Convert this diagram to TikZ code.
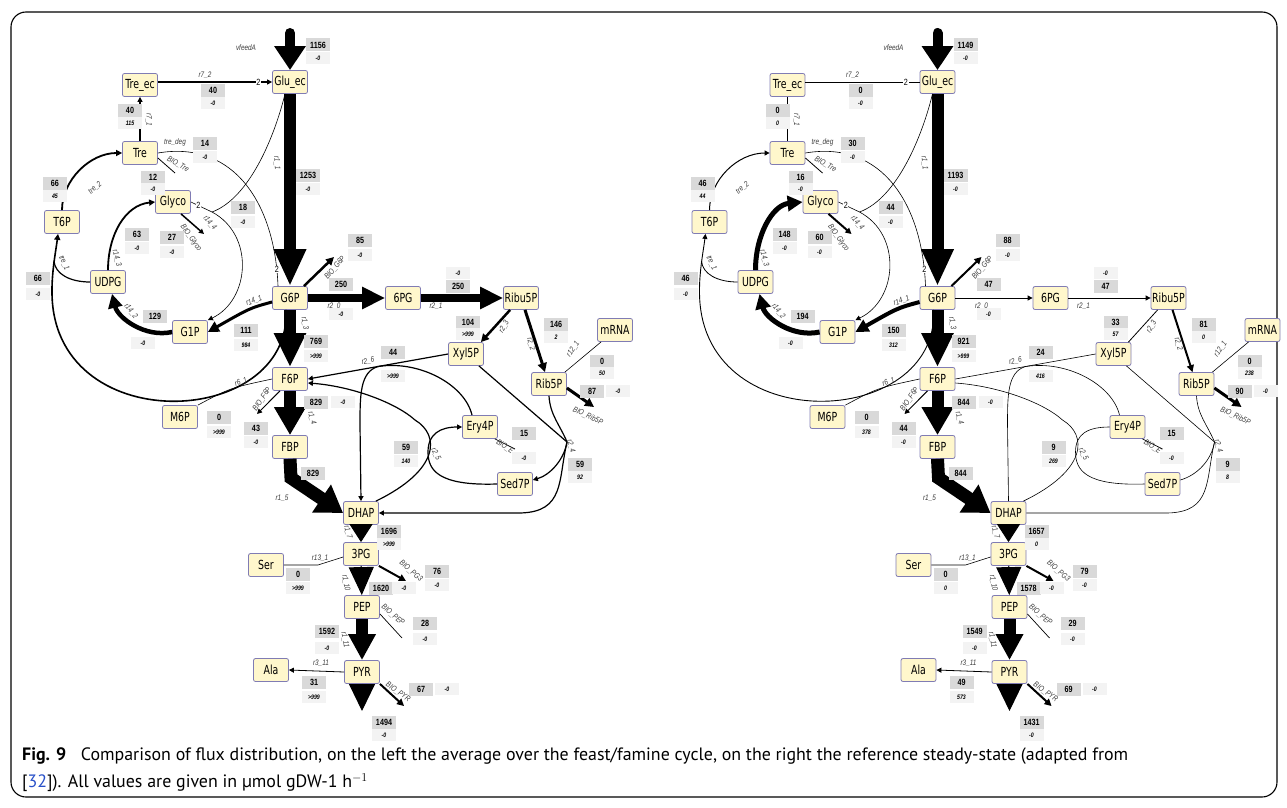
\documentclass[tikz,border=0pt]{standalone}
\usepackage{fontspec}
\setmainfont{PT Sans}
\newfontfamily\netfont[FakeStretch=0.75]{DejaVu Sans}
\newfontfamily\numfont[FakeStretch=0.8]{Liberation Sans}
\usetikzlibrary{arrows.meta}

\definecolor{metfill}{RGB}{255,247,204}
\definecolor{metline}{RGB}{128,124,180}
\definecolor{fluxbox}{RGB}{217,217,217}
\definecolor{sdbox}{RGB}{243,243,243}
\definecolor{rngray}{RGB}{60,60,60}
\definecolor{linkblue}{RGB}{40,80,200}

\tikzset{
  met/.style={draw=metline, fill=metfill, rounded corners=2pt, line width=0.8pt,
    minimum width=35pt, minimum height=23pt, inner sep=1pt,
    font=\netfont\fontsize{12.5}{13}\selectfont},
  flux/.style={fill=fluxbox, minimum width=24pt, minimum height=13pt, inner sep=1pt,
    font=\numfont\bfseries\fontsize{9}{9}\selectfont},
  sd/.style={fill=sdbox, minimum width=24pt, minimum height=12pt, inner sep=1pt,
    font=\numfont\bfseries\itshape\fontsize{6.5}{6.5}\selectfont},
  rn/.style={inner sep=0.5pt, text=rngray, font=\numfont\itshape\fontsize{8}{9}\selectfont},
  st/.style={fill=white, inner sep=0.6pt, font=\numfont\fontsize{9}{9}\selectfont},
  fat/.style n args={3}{line width=#1, -{Triangle[length=#2, width=#3]}},
  ar/.style 2 args={line width=#1, -{Triangle[length=#2, width=#2]}},
  ln/.style={line width=#1},
  % average over the cycle
  leftnet/.style={
    r72/.style={ar={1.2pt}{5pt}}, r71/.style={ar={1.2pt}{5pt}},
    tre2/.style={ar={1.8pt}{6pt}}, r143/.style={ar={1.8pt}{6pt}},
    bgly/.style={ar={1.5pt}{5pt}}, tre1/.style={ln=1.2pt},
    arc1/.style={ar={1.6pt}{6pt}}, r141/.style={ar={3pt}{11pt}},
    r142/.style={ar={4.5pt}{14pt}}, r20/.style={fat={8pt}{23pt}{21pt}},
    r23/.style={ar={2.5pt}{8pt}}, r22/.style={ar={3pt}{9pt}},
    bg6p/.style={ar={2.5pt}{8pt}}, side/.style={ar={1.2pt}{5pt}},
    sidel/.style={ln=1.2pt}},
  % reference steady state
  rightnet/.style={
    r72/.style={ln=0.6pt}, r71/.style={ln=0.6pt},
    tre2/.style={ar={1pt}{5pt}}, r143/.style={ar={5pt}{15pt}},
    bgly/.style={ar={2pt}{6pt}}, tre1/.style={ln=0.8pt},
    arc1/.style={ar={0.9pt}{5pt}}, r141/.style={ar={4pt}{13pt}},
    r142/.style={ar={5pt}{15pt}}, r20/.style={ar={0.9pt}{5pt}},
    r23/.style={ln=0.8pt}, r22/.style={ar={2pt}{7pt}},
    bg6p/.style={ar={2pt}{7pt}}, side/.style={ln=0.6pt},
    sidel/.style={ln=0.6pt}}
}

\begin{document}
\begin{tikzpicture}[x=1pt, y=-1pt]
\useasboundingbox (0,0) rectangle (1287,808);
\draw[line width=1.1pt, rounded corners=15pt] (11,12) rectangle (1277,797);

\foreach \p/\dx/\look in {L/0/leftnet, R/647.5/rightnet}{
\begin{scope}[xshift=\dx, name prefix=\p-, \look]
  % metabolites
  \node[met] (treec) at (140,85) {Tre\_ec};
  \node[met] (gluec) at (290,82) {Glu\_ec};
  \node[met] (tre) at (140,153) {Tre};
  \node[met] (glyco) at (173,202) {Glyco};
  \node[met] (t6p) at (62,222) {T6P};
  \node[met] (udpg) at (108,282) {UDPG};
  \node[met] (g1p) at (190,332) {G1P};
  \node[met] (g6p) at (290,298) {G6P};
  \node[met] (pg6) at (403,298) {6PG};
  \node[met] (ribu5p) at (521,298) {Ribu5P};
  \node[met] (xyl5p) at (466,354) {Xyl5P};
  \node[met] (mrna) at (615,330) {mRNA};
  \node[met] (rib5p) at (549,384) {Rib5P};
  \node[met] (f6p) at (290,379) {F6P};
  \node[met] (m6p) at (180,417) {M6P};
  \node[met] (fbp) at (290,447) {FBP};
  \node[met] (ery4p) at (480,427) {Ery4P};
  \node[met] (sed7p) at (515,484) {Sed7P};
  \node[met] (dhap) at (361,513) {DHAP};
  \node[met] (pg3) at (361,554) {3PG};
  \node[met] (ser) at (266,565) {Ser};
  \node[met] (pep) at (362,607) {PEP};
  \node[met] (ala) at (271,670) {Ala};
  \node[met] (pyr) at (362,672) {PYR};

  \coordinate (feed) at (290,33);
  \coordinate (bioTre) at (175,173);
  \coordinate (bioGly) at (204,234);
  \coordinate (j144) at (212,212);
  \coordinate (bioG6P) at (334,257);
  \coordinate (jtre1) at (54,261);
  \coordinate (j26) at (378,366.5);
  \coordinate (j24) at (567,442);
  \coordinate (bioRib) at (594,407);
  \coordinate (bioF6P) at (257,414);
  \coordinate (bioE) at (515,449);
  \coordinate (kr15) at (291,478);
  \coordinate (kr131) at (318,565);
  \coordinate (bioPG3) at (406,581);
  \coordinate (bioPEP) at (402,638);
  \coordinate (bioPYR) at (404,706);
  \coordinate (outPYR) at (362,711);

  % trehalose and glycogen
  \draw[fat={10pt}{24pt}{30pt}, line cap=round] (feed) -- (gluec);
  \draw[r72] (treec.east |- gluec) -- node[st, pos=0.88] (s72) {2} (gluec);
  \draw[r71] (tre) -- (treec);
  \draw[line width=0.6pt] (tre.east) .. controls (235,140) and (275,205)
    .. node[st, pos=0.93] (sdeg) {2} ([xshift=-12pt]g6p.north);
  \draw[line width=0.8pt] ([yshift=-5pt]tre.east) -- (bioTre);
  \draw[tre2] (t6p.north) .. controls (62,180) and (90,153) .. (tre.west);
  \draw[r143] (udpg.north) .. controls (108,235) and (125,205) .. (glyco.west);
  \draw[bgly] ([xshift=8pt]glyco.south) -- (bioGly);
  \draw[line width=0.6pt] (glyco.east) -- node[st, pos=0.35] (sgly) {2} (j144);
  \draw[line width=0.6pt] (j144) .. controls (250,198) and (275,135) .. ([xshift=-5pt]gluec.south);
  \draw[ar={0.6pt}{5pt}] (j144) .. controls (255,235) and (250,300) .. (g1p.north east);
  \draw[tre1] (udpg.west) .. controls (70,282) and (55,274) .. (jtre1);
  \draw[arc1] ([xshift=-4pt]g6p.south) .. controls (292,430) and (50,440) .. (52,290)
    .. controls (52,270) and (56,250) .. ([xshift=-4pt]t6p.south);
  \draw[r141] ([yshift=-4pt]g6p.west) .. controls (250,308) .. (g1p.east);
  \draw[r142] (g1p.west) .. controls (145,338) and (118,318) .. ([xshift=4pt]udpg.south);

  % glycolysis and pentose phosphate
  \draw[fat={12pt}{37pt}{30pt}] (gluec) -- (g6p);
  \draw[bg6p] ([xshift=-4pt]g6p.north east) -- (bioG6P);
  \draw[r20] (g6p) -- (pg6);
  \draw[r20] (pg6) -- (ribu5p);
  \draw[r23] ([xshift=7pt]ribu5p.south west) -- ([xshift=-3pt]xyl5p.north east);
  \draw[r22] ([xshift=4pt]ribu5p.south) -- ([xshift=-4pt]rib5p.north);
  \draw[line width=0.6pt] ([xshift=4pt]mrna.south west) -- ([xshift=-2pt]rib5p.north east);
  \draw[ar={3pt}{9pt}] ([yshift=-4pt]rib5p.east) -- (bioRib);
  \draw[fat={12pt}{34pt}{30pt}] (g6p) -- (f6p);
  \draw[side] (xyl5p.west) -- (f6p.east);
  \draw[side] (j26) .. controls (360,372) and (360,395) .. (360,425) -- (dhap.north);
  \draw[sidel] (j26) .. controls (420,360) and (465,385) .. ([xshift=-8pt]ery4p.north);
  \draw[side] ([xshift=-3pt]dhap.north east) .. controls (440,470) and (440,435) .. (415,420)
    .. controls (395,402) and (350,386) .. ([yshift=-4pt]f6p.east);
  \draw[side] (sed7p.west) .. controls (438,486) and (428,470) .. (428,452)
    .. controls (428,434) and (440,427) .. (ery4p.west);
  \draw[sidel] ([xshift=-5pt]xyl5p.south east) -- (j24);
  \draw[sidel] (rib5p.south) .. controls (550,415) and (560,425) .. (j24);
  \draw[side] (j24) .. controls (564,460) and (550,475) .. ([yshift=4pt]sed7p.east);
  \draw[side] (j24) .. controls (558,480) and (565,512) .. (520,513) -- (dhap.east);
  \draw[line width=0.7pt] ([xshift=-3pt]ery4p.south east) -- (bioE);
  \draw[line width=0.6pt] (m6p.north east) .. controls (230,388) .. (f6p.west);
  \draw[ar={1pt}{5pt}] ([xshift=-10pt]f6p.south) -- (bioF6P);
  \draw[fat={12pt}{28pt}{30pt}] (f6p) -- (fbp);
  \draw[fat={13pt}{26pt}{32pt}] (fbp.south) -- (kr15) -- (dhap.west);
  \draw[fat={1pt}{18pt}{23pt}] (dhap) -- (pg3);
  \draw[line width=0.6pt] (ser.east) -- (kr131) -- ([yshift=-3pt]pg3.west);
  \draw[ar={2pt}{7pt}] (pg3.south east) -- (bioPG3);
  \draw[fat={1pt}{28pt}{25pt}] (pg3) -- (pep);
  \draw[line width=0.7pt] ([yshift=5pt]pep.south east) -- (bioPEP);
  \draw[fat={12pt}{26pt}{26pt}] (pep) -- (pyr);
  \draw[ar={0.8pt}{5pt}] (pyr.west) -- (ala.east);
  \draw[fat={1pt}{27pt}{26pt}] (pyr) -- (outPYR);
  \draw[ar={2pt}{7pt}] (pyr.south east) -- (bioPYR);

  % reaction names
  \foreach \x/\y/\a/\t [count=\i] in {246/48/0/vfeedA, 205/75/0/r7\_2, 149/120/-90/r7\_1,
      175/142/0/tre\_deg, 178/164/-30/BIO\_Tre, 277/163/-85/r1\_1, 95/188/40/tre\_2,
      210/223/-50/r14\_4, 191/238/-55/BIO\_Glyco, 117/258/-75/r14\_3, 64/263/-65/tre\_1,
      131/311/-50/r14\_2, 254/301/20/r14\_1, 335/268/50/BIO\_G6P, 334/306/0/r2\_0,
      436/306/0/r2\_1, 504/327/60/r2\_3, 531/344/-75/r2\_2, 305/323/-80/r1\_3,
      573/349/55/r12\_1, 368/361/10/r2\_6, 588/416/-25/BIO\_Rib5P, 241/382/20/r6\_1,
      262/399/55/BIO\_F6P, 312/418/-75/r1\_4, 505/447/-35/BIO\_E, 436/454/-65/r2\_5,
      571/446/-75/r2\_4, 282/498/0/r1\_5, 348/532/-75/r1\_7, 320/558/0/r13\_1,
      411/571/-40/BIO\_PG3, 346/583/-80/r1\_10, 393/615/-40/BIO\_PEP, 345/640/-80/r1\_11,
      321/663/0/r3\_11, 398/692/-35/BIO\_PYR}
    \node[rn, rotate=\a] (rn\i) at (\x,\y) {\t};
\end{scope}
}

% flux values: box, small value, left pair, right pair
\foreach \bx/\by/\sx/\sy/\la/\lb/\ra/\rb [count=\i] in {
    318/45/318/58/1156/-0/1149/-0, 213/90/213/103/40/-0/0/-0,
    130/110/130/123/40/115/0/0, 205/143/205/157/14/-0/30/-0,
    153/177/153/189/12/-0/16/-0, 55/183/55/196/66/45/46/44,
    308/175/308/189/1253/-0/1193/-0, 243/207/243/222/18/-0/44/-0,
    137/234/137/248/63/-0/148/-0, 172/237/172/252/27/-0/60/-0,
    360/240/360/255/85/-0/88/-0, 38/278/38/294/66/-0/46/-0,
    341/284/341/314/250/-0/47/-0, 458/286/458/273/250/-0/47/-0,
    155/316/143/343/129/-0/194/-0, 246/330/246/345/111/984/150/312,
    468/322/468/334/104/>999/33/57, 556/324/556/337/146/2/81/0,
    316/341/316/356/769/>999/921/>999, 602/361/602/373/0/50/0/238,
    393/352/393/376/44/>999/24/416, 592/391/618/391/87/-0/90/-0,
    316/402/343/402/829/-0/844/-0, 219/417/219/432/0/>999/0/378,
    256/428/256/442/43/-0/44/-0, 524/433/524/458/15/-0/15/-0,
    406/447/406/461/59/140/9/269, 580/464/580/477/59/92/9/8,
    389/531/389/544/1696/>999/1657/0, 437/571/437/585/76/-0/79/-0,
    298/574/298/588/0/>999/0/0, 381/588/404/588/1620/-0/1578/-0,
    425/623/425/639/28/-0/29/-0, 327/631/327/648/1592/-0/1549/-0,
    314/682/314/697/31/>999/49/573, 421/689/447/689/67/-0/69/-0,
    384/722/384/735/1494/-0/1431/-0}{
  \node[flux] (Lf\i) at (\bx,\by) {\la};
  \node[sd] (Ls\i) at (\sx,\sy) {\lb};
  \node[flux] (Rf\i) at (\bx+647.5,\by) {\ra};
  \node[sd] (Rs\i) at (\sx+647.5,\sy) {\rb};
}
\node[flux] (Lr15) at (313,473) {829};
\node[flux] (Rr15) at (960.5,473) {844};

% caption
\node[anchor=west, inner sep=0pt, font=\fontsize{17.9}{20}\selectfont] (cap1) at (22,756)
  {\textbf{Fig. 9}\hspace{0.55em} Comparison of flux distribution, on the left the average over the feast/famine cycle, on the right the reference steady-state (adapted from};
\node[anchor=west, inner sep=0pt, font=\fontsize{17.9}{20}\selectfont] (cap2) at (22,783)
  {[\textcolor{linkblue}{32}]). All values are given in µmol gDW-1 h$^{-1}$};
\end{tikzpicture}
\end{document}
